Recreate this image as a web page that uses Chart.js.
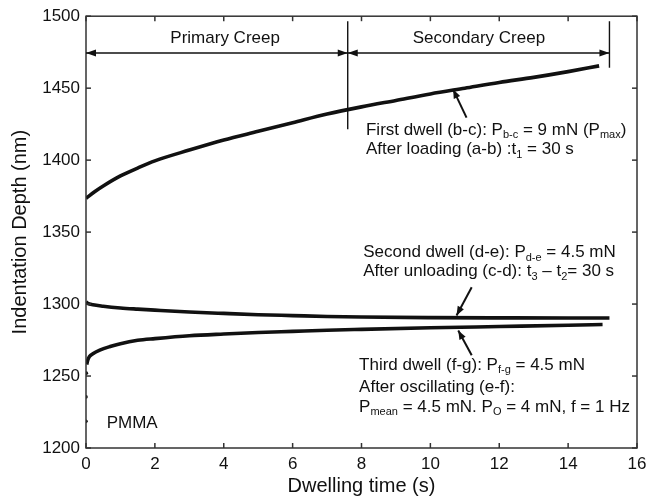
<!DOCTYPE html>
<html>
<head>
<meta charset="utf-8">
<script src="https://cdn.jsdelivr.net/npm/chart.js@4.4.1/dist/chart.umd.min.js"></script>
<style>
  html, body { margin: 0; padding: 0; background: #fff; }
</style>
</head>
<body>
<canvas id="c" width="658" height="498"></canvas>
<script>
// ── data ──
const xTicks = [0, 2, 4, 6, 8, 10, 12, 14, 16];
const yTicks = [1200, 1250, 1300, 1350, 1400, 1450, 1500];

// first dwell (b-c)
const t1 = [0, 0.25, 0.5, 1, 1.5, 2, 3, 4, 5, 6, 7, 8, 9, 10, 11, 12, 13, 14, 14.9];
const d1 = [1373.5, 1378, 1382, 1389, 1394.5, 1399.5, 1407, 1414, 1420, 1426, 1432, 1437, 1441.5, 1446, 1450, 1454, 1457.5, 1461.5, 1465.5];

// second dwell (d-e)
const t2 = [0, 0.05, 0.2, 0.5, 1, 1.5, 2, 3, 4, 5, 6, 7, 8, 10, 12, 14, 15.2];
const d2 = [1301.5, 1300.5, 1299.5, 1298.5, 1297.3, 1296.5, 1295.8, 1294.5, 1293.5, 1292.6, 1292, 1291.4, 1291, 1290.6, 1290.4, 1290.3, 1290.3];

// third dwell (f-g)
const t3 = [0.02, 0.05, 0.1, 0.2, 0.4, 0.7, 1, 1.5, 2, 3, 4, 5, 6, 7, 8, 10, 12, 14, 15.0];
const d3 = [1258, 1261, 1263.5, 1265.5, 1268, 1270.5, 1272.5, 1274.8, 1276, 1278, 1279.2, 1280.2, 1281, 1281.8, 1282.4, 1283.5, 1284.4, 1285.3, 1285.8];

// stray points at the start of the third dwell
const t3s = [0, 0, 0.01];
const d3s = [1235.5, 1218.5, 1252];

// creep regions
const creepBounds = [0, 7.6, 15.2];
const creepLevel = 1474.4;

const FONT = "'Liberation Sans', Arial, sans-serif";
const INK = '#111';

const pts = (xs, ys) => xs.map((v, i) => ({ x: v, y: ys[i] }));

function curve(xs, ys) {
  return {
    data: pts(xs, ys),
    showLine: true,
    borderColor: INK,
    borderWidth: 3.6,
    pointRadius: 0,
    tension: 0.3,
    cubicInterpolationMode: 'monotone'
  };
}

// annotation text: [x, y, segments]; a segment marked 'sub' is a subscript
const notes = [
  [4.04, 1484.8, [['Primary Creep']], 'center'],
  [11.41, 1484.8, [['Secondary Creep']], 'center'],
  [8.13, 1421.0, [['First dwell (b-c): P'], ['b-c', 'sub'], [' = 9 mN (P'], ['max', 'sub'], [')']]],
  [8.13, 1407.2, [['After loading (a-b) :t'], ['1', 'sub'], [' = 30 s']]],
  [8.05, 1335.8, [['Second dwell (d-e): P'], ['d-e', 'sub'], [' = 4.5 mN']]],
  [8.05, 1322.6, [['After unloading (c-d): t'], ['3', 'sub'], [' \u2013 t'], ['2', 'sub'], ['= 30 s']]],
  [7.93, 1257.5, [['Third dwell (f-g): P'], ['f-g', 'sub'], [' = 4.5 mN']]],
  [7.93, 1242.5, [['After oscillating (e-f):']]],
  [7.93, 1228.6, [['P'], ['mean', 'sub'], [' = 4.5 mN. P'], ['O', 'sub'], [' = 4 mN, f = 1 Hz']]],
  [0.6, 1217.3, [['PMMA']]]
];

// pointer arrows: tail -> tip
const pointers = [
  [11.05, 1429.5, 10.66, 1449.2],
  [11.2, 1311.7, 10.76, 1292.1],
  [11.2, 1264.4, 10.81, 1281.7]
];

function arrowHead(ctx, x0, y0, x1, y1, len, half) {
  const a = Math.atan2(y1 - y0, x1 - x0);
  ctx.beginPath();
  ctx.moveTo(x1, y1);
  ctx.lineTo(x1 - len * Math.cos(a) + half * Math.sin(a), y1 - len * Math.sin(a) - half * Math.cos(a));
  ctx.lineTo(x1 - len * Math.cos(a) - half * Math.sin(a), y1 - len * Math.sin(a) + half * Math.cos(a));
  ctx.closePath();
  ctx.fill();
}

function richText(ctx, x, y, segs, align) {
  const big = '17px ' + FONT, small = '11px ' + FONT;
  let w = 0;
  segs.forEach(s => { ctx.font = s[1] ? small : big; w += ctx.measureText(s[0]).width; });
  let cx = align === 'center' ? x - w / 2 : x;
  ctx.textBaseline = 'middle';
  ctx.textAlign = 'left';
  segs.forEach(s => {
    ctx.font = s[1] ? small : big;
    ctx.fillText(s[0], cx, s[1] ? y + 5 : y);
    cx += ctx.measureText(s[0]).width;
  });
}

const overlay = {
  id: 'overlay',
  afterDraw(chart) {
    const { ctx, chartArea: a, scales: { x, y } } = chart;
    const line = (x0, y0, x1, y1) => { ctx.beginPath(); ctx.moveTo(x0, y0); ctx.lineTo(x1, y1); ctx.stroke(); };
    ctx.save();

    // frame + inward ticks
    ctx.strokeStyle = '#333';
    ctx.lineWidth = 1.5;
    ctx.strokeRect(a.left, a.top, a.right - a.left, a.bottom - a.top);
    xTicks.forEach(v => {
      const px = x.getPixelForValue(v);
      line(px, a.bottom, px, a.bottom - 5);
      line(px, a.top, px, a.top + 5);
    });
    yTicks.forEach(v => {
      const py = y.getPixelForValue(v);
      line(a.left, py, a.left + 5, py);
      line(a.right, py, a.right - 5, py);
    });

    // creep region markers
    ctx.strokeStyle = INK;
    ctx.fillStyle = INK;
    ctx.lineWidth = 1.4;
    const cy = y.getPixelForValue(creepLevel);
    const top = y.getPixelForValue(1496.5);
    line(x.getPixelForValue(creepBounds[1]), top, x.getPixelForValue(creepBounds[1]), y.getPixelForValue(1421.5));
    line(x.getPixelForValue(creepBounds[2]), top, x.getPixelForValue(creepBounds[2]), y.getPixelForValue(1464.2));
    for (let i = 0; i < 2; i++) {
      const p0 = x.getPixelForValue(creepBounds[i]), p1 = x.getPixelForValue(creepBounds[i + 1]);
      line(p0, cy, p1, cy);
      arrowHead(ctx, p0 + 20, cy, p0, cy, 10, 3.5);
      arrowHead(ctx, p1 - 20, cy, p1, cy, 10, 3.5);
    }

    // pointer arrows
    ctx.lineWidth = 2;
    pointers.forEach(([a0, b0, a1, b1]) => {
      const x0 = x.getPixelForValue(a0), y0 = y.getPixelForValue(b0);
      const x1 = x.getPixelForValue(a1), y1 = y.getPixelForValue(b1);
      line(x0, y0, x1, y1);
      arrowHead(ctx, x0, y0, x1, y1, 9, 3.5);
    });

    // labels
    notes.forEach(([nx, ny, segs, align]) => {
      richText(ctx, x.getPixelForValue(nx), y.getPixelForValue(ny), segs, align);
    });
    ctx.restore();
  }
};

new Chart(document.getElementById('c'), {
  type: 'scatter',
  data: {
    datasets: [
      curve(t1, d1),
      curve(t2, d2),
      curve(t3, d3),
      { data: pts(t3s, d3s), pointRadius: 1.8, pointBackgroundColor: INK, pointBorderWidth: 0 }
    ]
  },
  options: {
    responsive: false,
    animation: false,
    layout: { padding: { left: 0, top: 15, right: 21, bottom: 0 } },
    plugins: { legend: { display: false }, tooltip: { enabled: false } },
    scales: {
      x: {
        min: 0, max: 16,
        afterFit: s => { s.height = 50; },
        grid: { display: false, drawTicks: false },
        border: { display: false },
        ticks: { stepSize: 2, padding: 6, color: INK, font: { family: FONT, size: 17 }, maxRotation: 0, callback: v => String(v) },
        title: { display: true, text: 'Dwelling time (s)', color: INK, font: { family: FONT, size: 20 }, padding: 0 }
      },
      y: {
        min: 1200, max: 1500,
        afterFit: s => { s.width = 86; },
        grid: { display: false, drawTicks: false },
        border: { display: false },
        ticks: { stepSize: 50, padding: 6, color: INK, font: { family: FONT, size: 17 }, callback: v => String(v) },
        title: { display: true, text: 'Indentation Depth (nm)', color: INK, font: { family: FONT, size: 20 }, padding: { top: 8, bottom: 0 } }
      }
    }
  },
  plugins: [overlay]
});
</script>
</body>
</html>
